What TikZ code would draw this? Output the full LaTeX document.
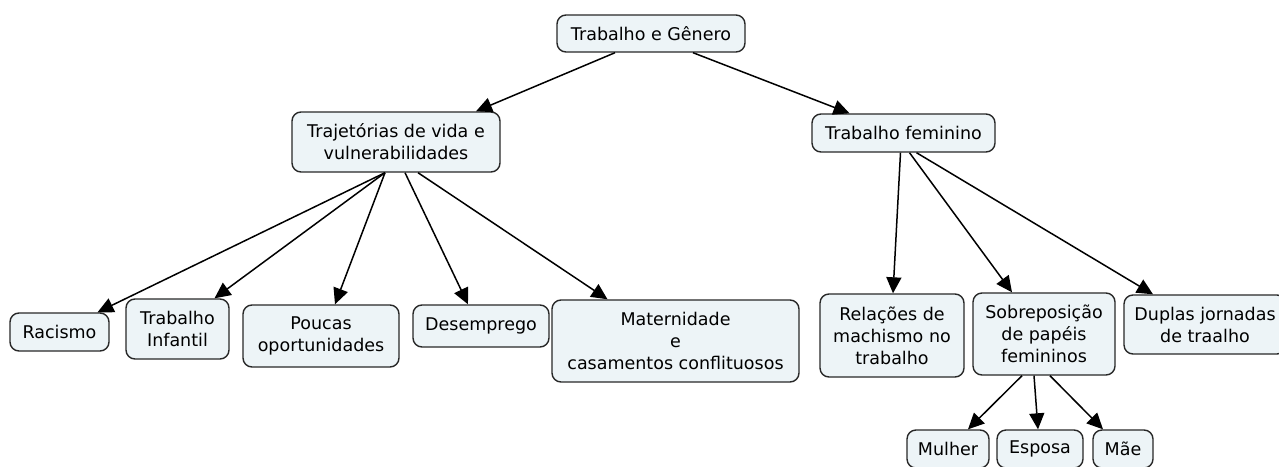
\documentclass[tikz,border=0pt]{standalone}
\usepackage{fontspec}
\setmainfont{DejaVu Sans}
\usetikzlibrary{arrows.meta,positioning}

\definecolor{cmapfill}{RGB}{237,244,247}
\definecolor{cmapline}{RGB}{40,40,40}

\tikzset{
  concept/.style={draw=cmapline, fill=cmapfill, line width=1.4pt, rounded corners=9pt,
    align=center, inner sep=0pt, font=\fontsize{17.5}{22}\selectfont},
  link/.style={-{Triangle[length=16pt,width=15pt]}, line width=1.5pt, draw=black}
}

\begin{document}
\begin{tikzpicture}[x=1pt, y=-1pt]
        \useasboundingbox (0,0) rectangle (1279,466);

            \node (genero)[concept, minimum width=188pt, minimum height=37pt] at (651,33.5) {Trabalho e Gênero};

            \node (trajetorias)[concept, minimum width=208pt, minimum height=60pt] at (396,142) {Trajetórias de vida e\\vulnerabilidades};
            \node (feminino)[concept, minimum width=183pt, minimum height=38pt] at (903.5,133) {Trabalho feminino};

            \node (racismo)[concept, minimum width=99pt, minimum height=38pt] at (59.5,332) {Racismo};
            \node (infantil)[concept, minimum width=103pt, minimum height=60pt] at (177.5,329) {Trabalho\\Infantil};
            \node (poucas)[concept, minimum width=156pt, minimum height=62pt] at (321,336) {Poucas\\oportunidades};
            \node (desemprego)[concept, minimum width=136pt, minimum height=42pt] at (481,326) {Desemprego};
            \node (maternidade)[concept, minimum width=247pt, minimum height=82pt] at (675.5,341) {Maternidade\\e\\casamentos conflituosos};

            \node (relacoes)[concept, minimum width=144pt, minimum height=83pt] at (892,335.5) {Relações de\\machismo no\\trabalho};
            \node (sobreposicao)[concept, minimum width=142pt, minimum height=82pt] at (1044,334) {Sobreposição\\de papéis\\femininos};
            \node (duplas)[concept, minimum width=162pt, minimum height=59pt] at (1205,324.5) {Duplas jornadas\\de traalho};

            \node (mulher)[concept, minimum width=82pt, minimum height=38pt] at (948,449) {Mulher};
            \node (esposa)[concept, minimum width=86pt, minimum height=38pt] at (1040,449) {Esposa};
            \node (mae)[concept, minimum width=60pt, minimum height=38pt] at (1123,449) {Mãe};


        \draw [link] ([xshift=-36pt]genero.south) -- ([xshift=80pt]trajetorias.north);
        \draw [link] ([xshift=42pt]genero.south) -- ([xshift=-54pt]feminino.north);

        \draw [link] ([xshift=-11pt]trajetorias.south) -- ([xshift=38pt]racismo.north);
        \draw [link] ([xshift=-11pt]trajetorias.south) -- ([xshift=37pt]infantil.north);
        \draw [link] ([xshift=-11pt]trajetorias.south) -- ([xshift=14pt]poucas.north);
        \draw [link] ([xshift=9pt]trajetorias.south) -- ([xshift=-13pt]desemprego.north);
        \draw [link] ([xshift=22pt]trajetorias.south) -- ([xshift=-68pt]maternidade.north);

        \draw [link] ([xshift=-3pt]feminino.south) -- ([xshift=1pt]relacoes.north);
        \draw [link] ([xshift=6pt]feminino.south) -- ([xshift=-32pt]sobreposicao.north);
        \draw [link] ([xshift=13pt]feminino.south) -- ([xshift=-52pt]duplas.north);

        \draw [link] ([xshift=-22pt]sobreposicao.south) -- ([xshift=20pt]mulher.north);
        \draw [link] ([xshift=-10pt]sobreposicao.south) -- ([xshift=-2pt]esposa.north);
        \draw [link] ([xshift=6pt]sobreposicao.south) -- ([xshift=-20pt]mae.north);
        \end{tikzpicture}
\end{document}
